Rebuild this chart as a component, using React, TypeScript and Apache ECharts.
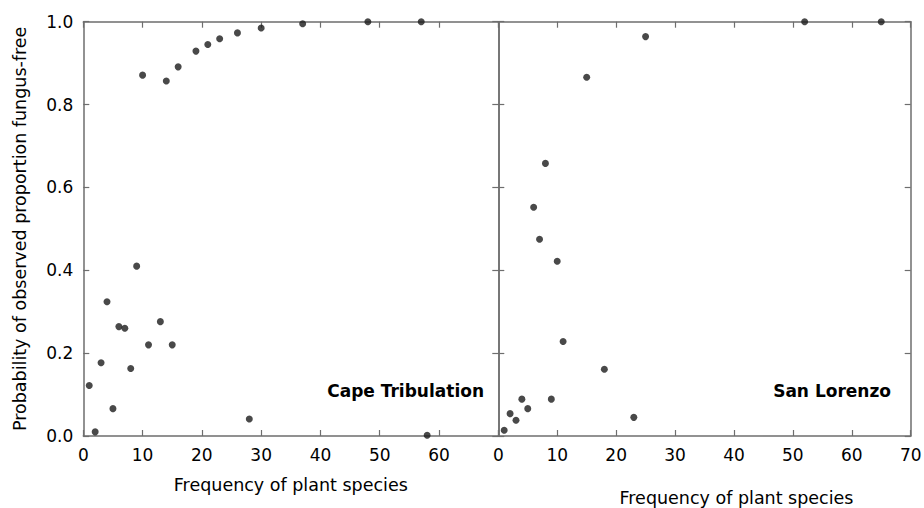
import React, { useEffect, useRef } from "react";
import * as echarts from "echarts";

// Cape Tribulation: [frequency of plant species, probability fungus-free]
const capeTribulation: [number, number][] = [
  [1, 0.122], [2, 0.01], [3, 0.177], [4, 0.324], [5, 0.066], [6, 0.264],
  [7, 0.26], [8, 0.163], [9, 0.41], [10, 0.871], [11, 0.22], [13, 0.276],
  [14, 0.857], [15, 0.22], [16, 0.891], [19, 0.929], [21, 0.945], [23, 0.959],
  [26, 0.973], [28, 0.041], [30, 0.985], [37, 0.995], [48, 1.0], [57, 1.0],
  [58, 0.002],
];

// San Lorenzo
const sanLorenzo: [number, number][] = [
  [1, 0.014], [2, 0.054], [3, 0.038], [4, 0.089], [5, 0.066], [6, 0.552],
  [7, 0.475], [8, 0.658], [9, 0.089], [10, 0.422], [11, 0.228], [15, 0.866],
  [18, 0.161], [23, 0.045], [25, 0.964], [52, 1.0], [65, 1.0],
];

const panelLabels = ["Cape Tribulation", "San Lorenzo"];
const xTitle = "Frequency of plant species";
const yTitle = "Probability of observed proportion fungus-free";
const xMin = 0;
const xMax = 70;
const xStep = 10;
const yMin = 0;
const yMax = 1;
const yStep = 0.2;

const FONT = "DejaVu Sans";
const AXIS_COLOR = "#6e6e6e";

export default function App() {
  const ref = useRef<HTMLDivElement>(null);

  useEffect(() => {
    if (!ref.current) return;
    const chart = echarts.init(ref.current, undefined, { renderer: "svg" });

    const axisLine = { show: true, onZero: false, lineStyle: { color: AXIS_COLOR, width: 1.5 } };
    const axisTick = { show: true, inside: true, length: 6, lineStyle: { color: AXIS_COLOR, width: 1.2 } };
    const labelStyle = { color: "#000", fontFamily: FONT, fontSize: 17 };
    const nameStyle = { color: "#000", fontFamily: FONT, fontSize: 17.5 };

    const xBase = (gridIndex: number) => ({
      type: "value" as const,
      gridIndex,
      min: xMin,
      max: xMax,
      interval: xStep,
      axisLine,
      axisTick,
      splitLine: { show: false },
    });
    const yBase = (gridIndex: number) => ({
      type: "value" as const,
      gridIndex,
      min: yMin,
      max: yMax,
      interval: yStep,
      axisLine,
      axisTick,
      splitLine: { show: false },
    });

    chart.setOption({
      animation: false,
      backgroundColor: "#ffffff",
      grid: [
        { left: 83.3, top: 21.7, width: 415, height: 414.3, containLabel: false, outerBoundsMode: "none" },
        { left: 498.3, top: 21.7, width: 412.4, height: 414.3, containLabel: false, outerBoundsMode: "none" },
      ],
      xAxis: [
        {
          ...xBase(0),
          position: "bottom",
          axisLabel: {
            ...labelStyle,
            margin: 10,
            formatter: (v: number) => (v === xMax ? "" : String(v)),
          },
          name: xTitle,
          nameLocation: "middle",
          nameGap: 40,
          nameTextStyle: nameStyle,
        },
        { ...xBase(0), position: "top", axisLabel: { show: false } },
        {
          ...xBase(1),
          position: "bottom",
          axisLabel: { ...labelStyle, margin: 10 },
          name: xTitle,
          nameLocation: "middle",
          nameGap: 53,
          nameTextStyle: { ...nameStyle, padding: [0, 0, 0, 64] },
        },
        { ...xBase(1), position: "top", axisLabel: { show: false } },
      ],
      yAxis: [
        {
          ...yBase(0),
          position: "left",
          axisLabel: {
            ...labelStyle,
            margin: 10,
            formatter: (v: number) => v.toFixed(1),
          },
          name: yTitle,
          nameLocation: "middle",
          nameGap: 54,
          nameTextStyle: nameStyle,
        },
        { ...yBase(0), position: "right", axisLabel: { show: false } },
        { ...yBase(1), position: "left", axisLabel: { show: false } },
        { ...yBase(1), position: "right", axisLabel: { show: false } },
      ],
      series: [
        {
          name: panelLabels[0],
          type: "scatter",
          xAxisIndex: 0,
          yAxisIndex: 0,
          data: capeTribulation,
          symbol: "circle",
          symbolSize: 7,
          itemStyle: { color: "#1c1c1c" },
        },
        {
          name: panelLabels[1],
          type: "scatter",
          xAxisIndex: 2,
          yAxisIndex: 2,
          data: sanLorenzo,
          symbol: "circle",
          symbolSize: 7,
          itemStyle: { color: "#1c1c1c" },
        },
      ],
      graphic: [
        {
          type: "text",
          x: 484,
          y: 391,
          style: {
            text: panelLabels[0],
            font: `bold 17px "${FONT}"`,
            fill: "#000",
            textAlign: "right",
            verticalAlign: "middle",
          },
        },
        {
          type: "text",
          x: 891,
          y: 391,
          style: {
            text: panelLabels[1],
            font: `bold 17px "${FONT}"`,
            fill: "#000",
            textAlign: "right",
            verticalAlign: "middle",
          },
        },
      ],
    });

    return () => chart.dispose();
  }, []);

  return (
    <div
      ref={ref}
      style={{ position: "fixed", left: 0, top: 0, width: 924, height: 508 }}
    />
  );
}
